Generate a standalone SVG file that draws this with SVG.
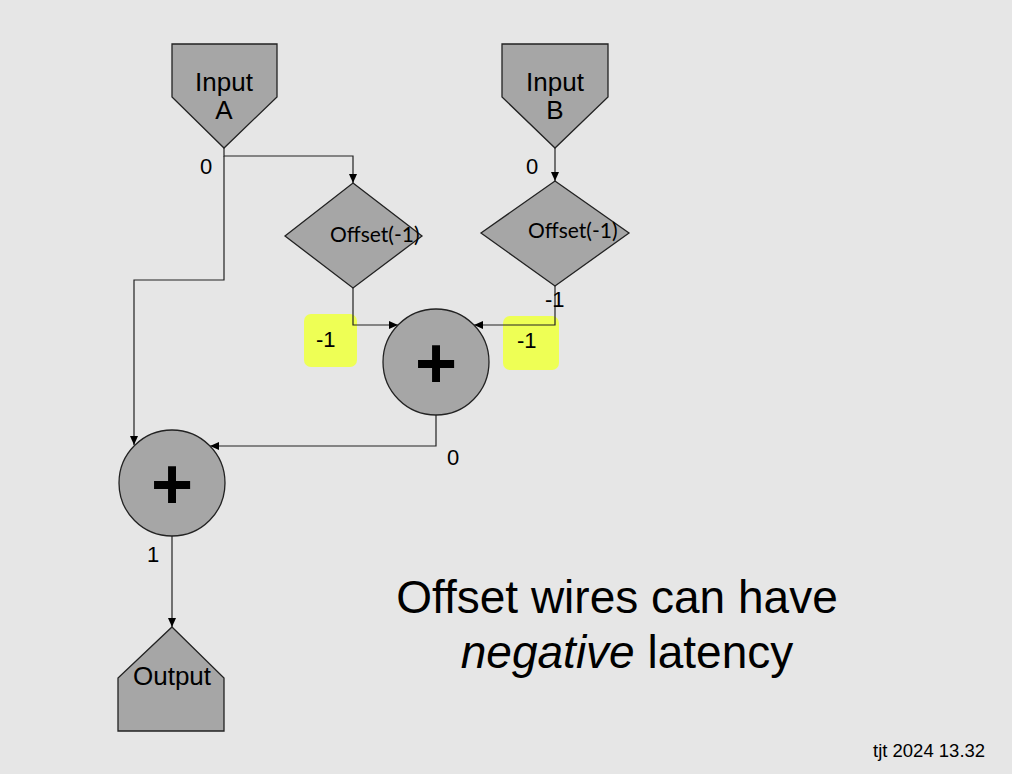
<svg xmlns="http://www.w3.org/2000/svg" width="1012" height="774" viewBox="0 0 1012 774">
  <defs>
    <marker id="arrow" markerWidth="10" markerHeight="10" refX="9" refY="5" orient="auto" markerUnits="userSpaceOnUse">
      <path d="M0,1 L9,5 L0,9 Z" fill="#000"/>
    </marker>
    <style>
      .node { fill: #a6a6a6; stroke: #222; stroke-width: 1.3; }
      .wire { fill: none; stroke: #222; stroke-width: 1.2; marker-end: url(#arrow); }
      .lbl { font-family: "Liberation Sans", Arial, sans-serif; font-size: 26px; fill: #000; }
      .lat { font-family: "Liberation Sans", Arial, sans-serif; font-size: 22px; fill: #000; }
      .off { font-family: Lato, "Open Sans", sans-serif; font-size: 21px; fill: #000; }
      .plus { font-family: "Liberation Sans", Arial, sans-serif; font-size: 72px; font-weight: bold; fill: #000; text-anchor: middle; }
      .mid { text-anchor: middle; }
      .hl { fill: #eeff55; }
      .big { font-family: "Liberation Sans", Arial, sans-serif; font-size: 46px; fill: #000; text-anchor: middle; }
      .foot { font-family: "Liberation Sans", Arial, sans-serif; font-size: 18.5px; fill: #000; }
    </style>
  </defs>

  <rect width="1012" height="774" fill="#e6e6e6"/>

  <!-- highlight boxes behind latency labels -->
  <rect class="hl" x="304" y="314" width="53" height="53" rx="7"/>
  <rect class="hl" x="503" y="316" width="56" height="54" rx="7"/>

  <g id="connectors">
    <path class="wire" d="M224,148 V156 H353 V183"/>
    <path class="wire" d="M555,148 V181"/>
    <path class="wire" d="M224,156 V280 H134 V445"/>
    <path class="wire" d="M353,288 V325 H398"/>
    <path class="wire" d="M555,286 V325 H474"/>
    <path class="wire" d="M436,415 V446 H210"/>
    <path class="wire" d="M172,536 V627"/>
  </g>

  <g id="inputA">
    <polygon class="node" points="172,44 277,44 277,97 224,148 172,97"/>
    <text class="lbl mid" x="224" y="91">Input</text>
    <text class="lbl mid" x="224" y="119">A</text>
  </g>

  <g id="inputB">
    <polygon class="node" points="502,44 608,44 608,97 555,148 502,97"/>
    <text class="lbl mid" x="555" y="91">Input</text>
    <text class="lbl mid" x="555" y="119">B</text>
  </g>

  <g id="offset1">
    <polygon class="node" points="353,183 422,236 353,288 285,236"/>
    <text class="off" x="330" y="242">Offset(-1)</text>
  </g>

  <g id="offset2">
    <polygon class="node" points="555,181 629,233 555,286 481,233"/>
    <text class="off" x="528" y="238">Offset(-1)</text>
  </g>

  <g id="add1">
    <circle class="node" cx="436" cy="362" r="53"/>
    <text class="plus" x="436" y="388">+</text>
  </g>

  <g id="add2">
    <circle class="node" cx="172" cy="483" r="53"/>
    <text class="plus" x="172" y="509">+</text>
  </g>

  <g id="output">
    <polygon class="node" points="172,627 224,678 224,731 118,731 118,678"/>
    <text class="lbl mid" x="172" y="685">Output</text>
  </g>

  <!-- latency labels -->
  <g id="latencies">
    <text class="lat" x="200" y="174">0</text>
    <text class="lat" x="526" y="174">0</text>
    <text class="lat" x="545" y="307">-1</text>
    <text class="lat" x="316" y="347">-1</text>
    <text class="lat" x="517" y="348">-1</text>
    <text class="lat" x="447" y="465">0</text>
    <text class="lat" x="147" y="562">1</text>
  </g>

  <g id="caption">
    <text class="big" x="617" y="613">Offset wires can have</text>
    <text class="big" x="627" y="668"><tspan font-style="italic">negative</tspan> latency</text>
  </g>

  <text class="foot" x="873" y="757">tjt 2024 13.32</text>
</svg>
